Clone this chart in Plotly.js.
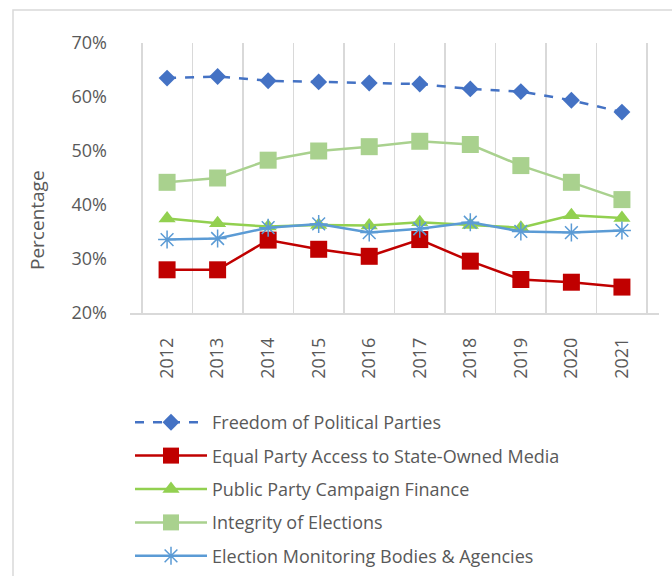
<!DOCTYPE html>
<html>
<head>
<meta charset="utf-8">
<script src="https://cdn.plot.ly/plotly-3.0.1.min.js"></script>
<style>html,body{margin:0;padding:0;background:#fff;}#chart{width:672px;height:576px;}</style>
</head>
<body>
<div id="chart"></div>
<script>
const years = ['2012','2013','2014','2015','2016','2017','2018','2019','2020','2021'];
const freedomParties = [63.5, 63.8, 63.0, 62.8, 62.6, 62.4, 61.5, 61.0, 59.4, 57.2];
const equalMediaAccess = [28.0, 28.0, 33.5, 31.8, 30.5, 33.6, 29.6, 26.2, 25.7, 24.8];
const publicFinance = [37.5, 36.6, 36.0, 36.3, 36.2, 36.8, 36.3, 35.8, 38.1, 37.6];
const electionIntegrity = [44.2, 45.0, 48.3, 50.0, 50.8, 51.8, 51.2, 47.3, 44.2, 41.0];
const monitoringBodies = [33.6, 33.8, 35.8, 36.5, 34.9, 35.6, 36.8, 35.1, 34.9, 35.3];
const seriesNames = ['Freedom of Political Parties','Equal Party Access to State-Owned Media','Public Party Campaign Finance','Integrity of Elections','Election Monitoring Bodies & Agencies'];
const yTitle = 'Percentage';

const FONT = '"Open Sans", "Noto Sans", sans-serif';
const GREY = '#595959';

const traces = [
  {x: years, y: freedomParties, name: seriesNames[0], legendgroup:'a', mode:'lines+markers',
   line:{color:'#4472C4', width:2.5, dash:'dash'}, marker:{symbol:'diamond', size:13, color:'#4472C4'}},
  {x: years, y: equalMediaAccess, name: seriesNames[1], legendgroup:'b', mode:'lines+markers',
   line:{color:'#C00000', width:2.5}, marker:{symbol:'square', size:17, color:'#C00000'}},
  {x: years, y: publicFinance, name: seriesNames[2], legendgroup:'c', mode:'lines+markers',
   line:{color:'#92D050', width:2.5}, marker:{symbol:'triangle-up', size:15, color:'#92D050'}},
  {x: years, y: electionIntegrity, name: seriesNames[3], legendgroup:'d', mode:'lines+markers',
   line:{color:'#A9D18E', width:2.5}, marker:{symbol:'square', size:17, color:'#A9D18E'}},
  {x: years, y: monitoringBodies, name: seriesNames[4], legendgroup:'e', mode:'lines+markers',
   line:{color:'#5B9BD5', width:2.5}, marker:{symbol:'asterisk-open', size:15, color:'#5B9BD5', line:{color:'#5B9BD5', width:1.5}}}
];

const layout = {
  width: 672, height: 576,
  margin: {l:130, r:13, t:43, b:263},
  paper_bgcolor:'#fff', plot_bgcolor:'#fff',
  font: {family: FONT, color: GREY, size: 18},
  showlegend: true,
  legend: {xref:'paper', yref:'container', x: 0.0, xanchor:'left', y: 1 - 404/576, yanchor:'top',
           traceorder:'grouped', tracegroupgap: 7, itemwidth: 72, itemsizing:'trace',
           font:{family: FONT, size:18, color: GREY}, bgcolor:'rgba(0,0,0,0)'},
  xaxis: {type:'category', tickson:'boundaries', showgrid:true, gridcolor:'#d9d9d9', gridwidth:1.5,
          showline:true, linecolor:'#d9d9d9', linewidth:1.5, ticks:'', tickangle:-90, automargin:false,
          ticklabelstandoff: 16, tickfont:{size:18, color: GREY}, fixedrange:true},
  yaxis: {range:[20,70], dtick:10, ticksuffix:'%', showgrid:false, zeroline:false, showline:false, automargin:false,
          ticks:'', ticklabelstandoff: 22, tickfont:{size:18, color: GREY}, fixedrange:true},
  annotations: [
    {text: yTitle, xref:'paper', yref:'paper', x:(37-130)/529, y:(313-220)/270, xanchor:'center', yanchor:'middle',
     textangle:-90, showarrow:false, font:{family: FONT, size:19, color: GREY}}
  ],
  shapes: [
    {type:'rect', xref:'paper', yref:'paper', x0:(13-130)/529, x1:2, y0:-3, y1:(313-10)/270,
     line:{color:'#d9d9d9', width:1.5}, fillcolor:'rgba(0,0,0,0)', layer:'below'}
  ]
};

Plotly.newPlot('chart', traces, layout, {displayModeBar:false, staticPlot:true});
</script>
</body>
</html>
